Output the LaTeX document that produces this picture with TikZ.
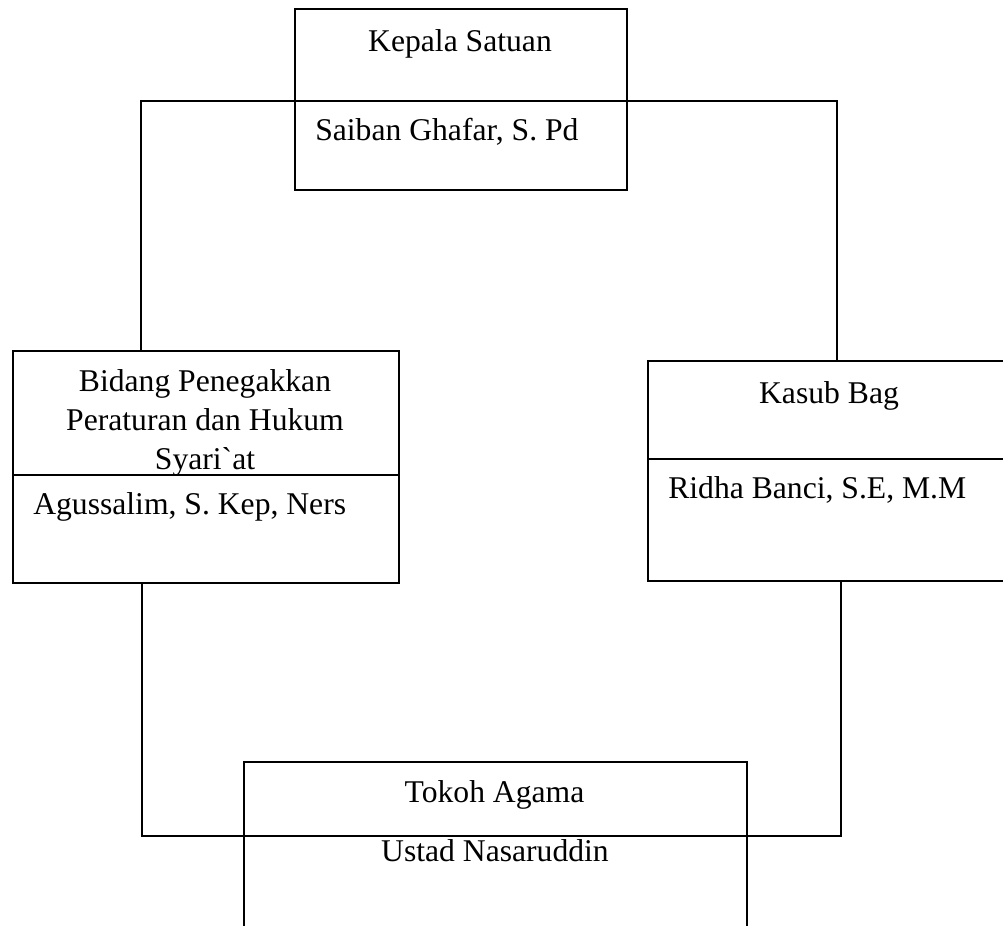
\documentclass[tikz,border=0pt]{standalone}
\usepackage{fontspec}
\setmainfont{Liberation Serif}
\usetikzlibrary{positioning}

\begin{document}
\begin{tikzpicture}[x=0.025cm, y=-0.025cm,
            unit/.style={rectangle, draw, line width=1.2pt, anchor=north west, inner sep=0pt},
            post/.style={font=\fontsize{22.5}{27.7}\selectfont, align=center, anchor=base, inner sep=0pt},
            person/.style={font=\fontsize{22.5}{27.7}\selectfont, anchor=base west, inner sep=0pt},
            link/.style={line width=1.2pt}
        ]
            \clip (0,0) rectangle (1003,925);

            \node[unit, minimum width=8.3cm, minimum height=4.525cm] (kepala) at (294,8) {};
            \node[unit, minimum width=9.65cm, minimum height=5.8cm] (bidang) at (12,350) {};
            \node[unit, minimum width=9.1cm, minimum height=5.5cm] (kasub) at (647,360) {};
            \node[unit, minimum width=12.575cm, minimum height=5cm] (tokoh) at (243,761) {};

            \path (bidang.north west) ++(0,125) coordinate (bdiv);
            \path (kasub.north west) ++(0,99) coordinate (kdiv);
            \draw[link] (bdiv) -- (bdiv -| bidang.east);
            \draw[link] (kdiv) -- (kdiv -| kasub.east);

            \coordinate (lt) at (141,101);
            \coordinate (rt) at (837,101);
            \coordinate (lb) at (142,836);
            \coordinate (rb) at (841,836);
            \draw[link] (bidang.north -| lt) -- (lt) -- (rt) -- (kasub.north -| rt);
            \draw[link] (bidang.south -| lb) -- (lb) -- (rb) -- (kasub.south -| rb);

            \node[post] (kepalaT) at (460,52) {Kepala Satuan};
            \node[person] (kepalaN) at (315,141) {Saiban Ghafar, S. Pd};
            \node[post, anchor=north] (bidangT) at (205,369.5) {Bidang Penegakkan\\Peraturan dan Hukum\\Syari\textasciigrave at};
            \node[person] (bidangN) at (33,514) {Agussalim, S. Kep, Ners};
            \node[post] (kasubT) at (829,403) {Kasub Bag};
            \node[person] (kasubN) at (668,498) {Ridha Banci, S.E, M.M};
            \node[post] (tokohT) at (494.5,802) {Tokoh Agama};
            \node[post] (tokohN) at (495,861) {Ustad Nasaruddin};
        \end{tikzpicture}
\end{document}
